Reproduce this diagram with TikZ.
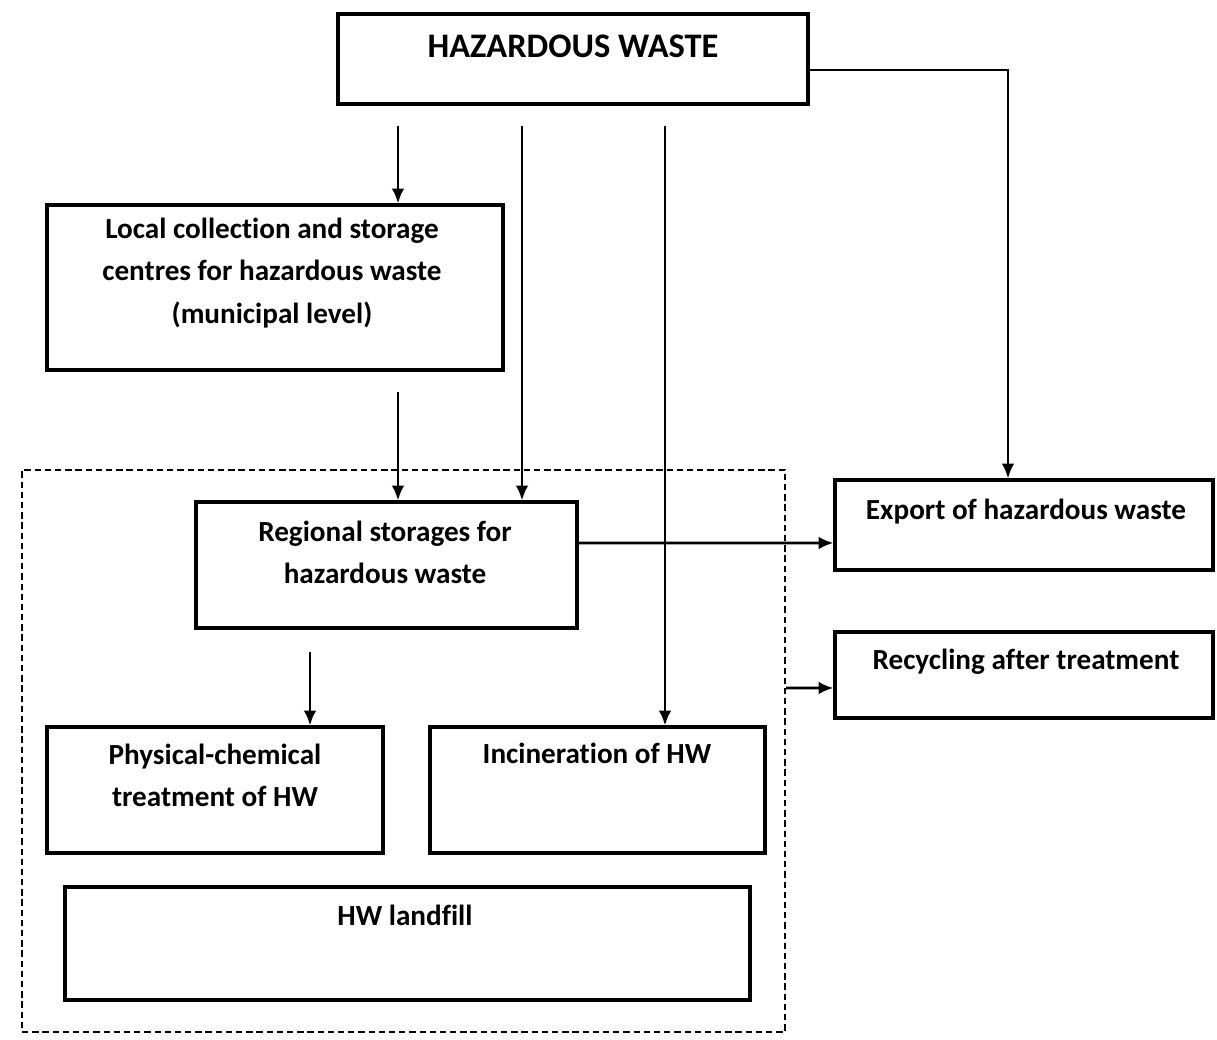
\documentclass[tikz,border=0pt]{standalone}
\usepackage{fontspec}
\setmainfont[Ligatures=NoCommon]{Carlito}
\usetikzlibrary{arrows.meta}
\tikzset{
  wbox/.style={draw, rectangle, line width=0.9pt, inner sep=0pt},
  wzone/.style={draw, rectangle, line width=0.7pt, dash pattern=on 1.8pt off 1.1pt, inner sep=0pt},
  wtext/.style={font={\fontsize{8.3}{12}\selectfont\bfseries}, align=center, inner sep=0pt},
  flow/.style={line width=0.75pt, -{Latex[length=4.2pt,width=3.6pt]}},
}

\begin{document}
\begin{tikzpicture}
          \useasboundingbox (0,0) rectangle (12.17,-10.40);

          \node[wzone, minimum width=7.63cm, minimum height=5.62cm] (zone) at (4.035,-7.51) {};

          \node[wbox, minimum width=4.70cm, minimum height=0.90cm] (hw) at (5.73,-0.59) {};
          \node[wbox, minimum width=4.56cm, minimum height=1.65cm] (local) at (2.75,-2.875) {};
          \node[wbox, minimum width=3.81cm, minimum height=1.26cm] (regional) at (3.865,-5.65) {};
          \node[wbox, minimum width=3.36cm, minimum height=1.26cm] (physical) at (2.15,-7.90) {};
          \node[wbox, minimum width=3.35cm, minimum height=1.26cm] (incineration) at (5.975,-7.90) {};
          \node[wbox, minimum width=6.85cm, minimum height=1.13cm] (landfill) at (4.075,-9.435) {};
          \node[wbox, minimum width=3.78cm, minimum height=0.90cm] (export) at (10.24,-5.25) {};
          \node[wbox, minimum width=3.78cm, minimum height=0.86cm] (recycling) at (10.24,-6.75) {};

          \node[wtext, font={\fontsize{9.8}{12}\selectfont\bfseries}] (hwtext) at (5.73,-0.46) {HAZARDOUS WASTE};
          \node[wtext] (localtext) at (2.72,-2.73) {Local collection and storage\\centres for hazardous waste\\(municipal level)};
          \node[wtext] (regionaltext) at (3.85,-5.52) {Regional storages for\\hazardous waste};
          \node[wtext] (physicaltext) at (2.15,-7.75) {Physical-chemical\\treatment of HW};
          \node[wtext] (incinerationtext) at (5.97,-7.53) {Incineration of HW};
          \node[wtext] (landfilltext) at (4.05,-9.15) {HW landfill};
          \node[wtext] (exporttext) at (10.26,-5.12) {Export of hazardous waste};
          \node[wtext] (recyclingtext) at (10.26,-6.62) {Recycling after treatment};

          \coordinate (xa) at (3.98,0);
          \coordinate (xb) at (5.22,0);
          \coordinate (xc) at (6.65,0);
          \coordinate (xd) at (10.08,0);
          \coordinate (xe) at (3.10,0);

          \draw[flow, shorten <=0.2cm] (hw.south -| xa) -- (local.north -| xa);
          \draw[flow, shorten <=0.2cm] (hw.south -| xb) -- (regional.north -| xb);
          \draw[flow, shorten <=0.2cm] (hw.south -| xc) -- (incineration.north -| xc);
          \draw[flow] ([yshift=-0.11cm]hw.east) -| (export.north -| xd);
          \draw[flow, shorten <=0.2cm] (local.south -| xa) -- (regional.north -| xa);
          \draw[flow, shorten <=0.22cm] (regional.south -| xe) -- (physical.north -| xe);
          \draw[flow] ([yshift=0.22cm]regional.east) -- ([yshift=-0.18cm]export.west);
          \draw[flow] ([yshift=0.63cm]zone.east) -- ([yshift=-0.13cm]recycling.west);
        \end{tikzpicture}
\end{document}
